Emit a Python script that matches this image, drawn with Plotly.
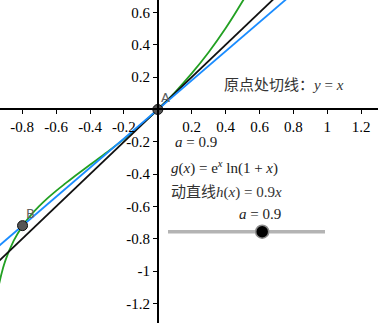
import plotly.graph_objects as go

# ---- data ----
g_x = [-0.97, -0.95, -0.93, -0.9, -0.85, -0.8, -0.75, -0.7, -0.65, -0.6, -0.55, -0.5,
       -0.4, -0.3, -0.2, -0.1, 0.0, 0.1, 0.2, 0.3, 0.4, 0.5, 0.55]
g_y = [-1.329, -1.158, -1.049, -0.936, -0.811, -0.723, -0.655, -0.598, -0.548, -0.503,
       -0.461, -0.420, -0.342, -0.264, -0.183, -0.095, 0.0, 0.105, 0.223, 0.354, 0.502,
       0.669, 0.760]
tangent_x = [-1.2, 1.5]
tangent_slope = 1.0
dyn_x = [-1.2, 1.5]
a_value = 0.9
slider_min, slider_max = 0.0, 1.5
point_names = ["A", "B"]
point_x = [0.0, -0.798]
point_y = [0.0, -0.718]
x_ticks = [-0.8, -0.6, -0.4, -0.2, 0.2, 0.4, 0.6, 0.8, 1, 1.2]
y_ticks = [-1.2, -1, -0.8, -0.6, -0.4, -0.2, 0.2, 0.4, 0.6]

W, H = 378, 323
XR = [-0.931, 1.299]
YR = [-1.320, 0.677]


def tick_text(v):
    return f"{v:g}"


def px(xp):
    return xp / W


def py(yp):
    return 1 - yp / H


fig = go.Figure()
fig.add_trace(go.Scatter(x=g_x, y=g_y, mode="lines", line=dict(color="#22a022", width=1.8, shape="spline"),
                         hoverinfo="skip"))
fig.add_trace(go.Scatter(x=tangent_x, y=[tangent_slope * v for v in tangent_x], mode="lines",
                         line=dict(color="#111111", width=1.8), hoverinfo="skip"))
fig.add_trace(go.Scatter(x=dyn_x, y=[a_value * v for v in dyn_x], mode="lines",
                         line=dict(color="#1a8cff", width=1.8), hoverinfo="skip"))
fig.add_trace(go.Scatter(x=point_x, y=point_y, mode="markers",
                         marker=dict(size=10, color="#555555", line=dict(color="#111111", width=1)),
                         hoverinfo="skip", cliponaxis=False))

for n, xv, yv in zip(point_names, point_x, point_y):
    fig.add_annotation(x=xv, y=yv, text=n, showarrow=False, xshift=8, yshift=12,
                       font=dict(family="DejaVu Sans", size=13, color="#606060"))

serif = "Liberation Serif"
cjk = "Noto Sans CJK SC"

fig.add_annotation(xref="paper", yref="paper", x=px(222), y=py(83), xanchor="left", yanchor="middle",
                   showarrow=False,
                   text=f"<span style='font-family:{cjk}'>原点处切线：</span><i>y</i> = <i>x</i>",
                   font=dict(family=serif, size=15, color="#333333"))
fig.add_annotation(xref="paper", yref="paper", x=px(173), y=py(142), xanchor="left", yanchor="middle",
                   showarrow=False, text=f"<i>a</i> = {a_value}",
                   font=dict(family=serif, size=15, color="#222222"))
fig.add_annotation(xref="paper", yref="paper", x=px(169), y=py(167), xanchor="left", yanchor="middle",
                   showarrow=False,
                   text="<i>g</i>(<i>x</i>) = e<sup><i>x</i></sup> ln(1 + <i>x</i>)",
                   font=dict(family=serif, size=15, color="#222222"))
fig.add_annotation(xref="paper", yref="paper", x=px(169), y=py(190), xanchor="left", yanchor="middle",
                   showarrow=False,
                   text=f"<span style='font-family:{cjk}'>动直线</span><i>h</i>(<i>x</i>) = {a_value}<i>x</i>",
                   font=dict(family=serif, size=15, color="#333333"))
fig.add_annotation(xref="paper", yref="paper", x=px(260), y=py(214), xanchor="center", yanchor="middle",
                   showarrow=False, text=f"<i>a</i> = {a_value}",
                   font=dict(family=serif, size=15, color="#222222"))

# slider
s_left, s_right, s_y = 168, 325, 231.7
fig.add_shape(type="line", xref="paper", yref="paper", x0=px(s_left), x1=px(s_right), y0=py(s_y), y1=py(s_y),
              line=dict(color="#b4b4b4", width=3.5))
knob = s_left + (a_value - slider_min) / (slider_max - slider_min) * (s_right - s_left)
r = 6.5
fig.add_shape(type="circle", xref="paper", yref="paper", x0=px(knob - r), x1=px(knob + r),
              y0=py(s_y + r), y1=py(s_y - r), fillcolor="#000000", line=dict(color="#8a8a8a", width=1.5))

ypos = (0 - YR[0]) / (YR[1] - YR[0])
xpos = (0 - XR[0]) / (XR[1] - XR[0])

fig.update_layout(
    width=W, height=H, autosize=False,
    margin=dict(l=0, r=0, t=0, b=0),
    paper_bgcolor="white", plot_bgcolor="white",
    showlegend=False,
    font=dict(family=serif),
    xaxis=dict(range=XR, anchor="free", position=ypos, showgrid=False, zeroline=False,
               showline=True, linecolor="#000000", linewidth=1.5,
               tickvals=x_ticks, ticktext=[tick_text(v) for v in x_ticks],
               ticks="outside", ticklen=4, tickcolor="#000000", tickwidth=1,
               tickfont=dict(family=serif, size=15, color="#000000"), fixedrange=True),
    yaxis=dict(range=YR, anchor="free", position=xpos, showgrid=False, zeroline=False,
               showline=True, linecolor="#000000", linewidth=1.5,
               tickvals=y_ticks, ticktext=[tick_text(v) for v in y_ticks],
               ticks="outside", ticklen=4, tickcolor="#000000", tickwidth=1,
               tickfont=dict(family=serif, size=15, color="#000000"), fixedrange=True),
)

fig.write_html("out.html", config={"displayModeBar": False},
               post_script="document.body.style.margin='0';document.body.style.overflow='hidden';")
